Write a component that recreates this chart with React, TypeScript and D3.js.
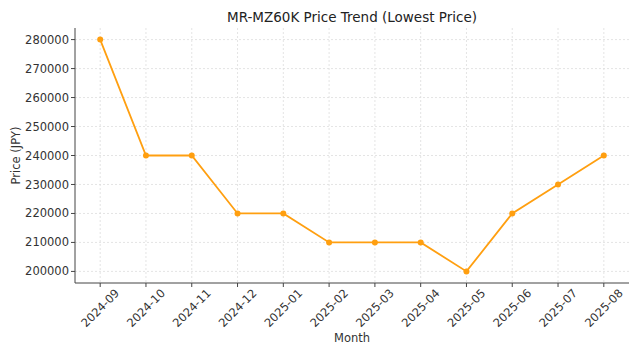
import React from "react";
import * as d3 from "d3";

const months = ["2024-09","2024-10","2024-11","2024-12","2025-01","2025-02","2025-03","2025-04","2025-05","2025-06","2025-07","2025-08"];
const prices = [280000,240000,240000,220000,220000,210000,210000,210000,200000,220000,230000,240000];
const yTicks = [200000,210000,220000,230000,240000,250000,260000,270000,280000];

const W = 640, H = 356;
const L = 75, R = 629, T = 28, B = 283;

export default function App() {
  const x = d3.scaleLinear().domain([-0.55, months.length - 1 + 0.55]).range([L, R]);
  const y = d3.scaleLinear().domain([196000, 284000]).range([B, T]);
  const line = d3.line<number>().x((_, i) => x(i)).y(d => y(d));
  const font = "DejaVu Sans, sans-serif";
  const axisCol = "#444";
  return (
    <svg width={W} height={H} style={{ position: "absolute", left: 0, top: 0 }} fontFamily={font}>
      <rect width={W} height={H} fill="#fff" />
      {yTicks.map(t => (
        <line key={"gy" + t} x1={L} x2={R} y1={y(t)} y2={y(t)} stroke="#ddd" strokeWidth={0.8} strokeDasharray="2,2" />
      ))}
      {months.map((m, i) => (
        <line key={"gx" + m} x1={x(i)} x2={x(i)} y1={T} y2={B} stroke="#ddd" strokeWidth={0.8} strokeDasharray="2,2" />
      ))}
      <line x1={L} x2={L} y1={T} y2={B} stroke={axisCol} strokeWidth={1} />
      <line x1={L} x2={R} y1={B} y2={B} stroke={axisCol} strokeWidth={1} />
      {yTicks.map(t => (
        <g key={"ty" + t}>
          <line x1={L - 4} x2={L} y1={y(t)} y2={y(t)} stroke={axisCol} />
          <text x={L - 6} y={y(t)} dy="0.35em" textAnchor="end" fontSize={11.5} fill="#333">{t}</text>
        </g>
      ))}
      {months.map((m, i) => (
        <g key={"tx" + m}>
          <line x1={x(i)} x2={x(i)} y1={B} y2={B + 4} stroke={axisCol} />
          <text transform={`translate(${x(i)},${308}) rotate(-45)`} textAnchor="middle" dy="0.35em" fontSize={11.5} fill="#333">{m}</text>
        </g>
      ))}
      <path d={line(prices) || ""} fill="none" stroke="#ff9f10" strokeWidth={1.8} />
      {prices.map((p, i) => (
        <circle key={"p" + i} cx={x(i)} cy={y(p)} r={3} fill="#ff9f10" />
      ))}
      <text x={(L + R) / 2} y={17} dy="0.35em" textAnchor="middle" fontSize={13.5} fill="#222">MR-MZ60K Price Trend (Lowest Price)</text>
      <text x={(L + R) / 2} y={338} dy="0.35em" textAnchor="middle" fontSize={11.5} fill="#333">Month</text>
      <text transform={`translate(16,${(T + B) / 2}) rotate(-90)`} dy="0.35em" textAnchor="middle" fontSize={11.5} fill="#333">Price (JPY)</text>
    </svg>
  );
}
